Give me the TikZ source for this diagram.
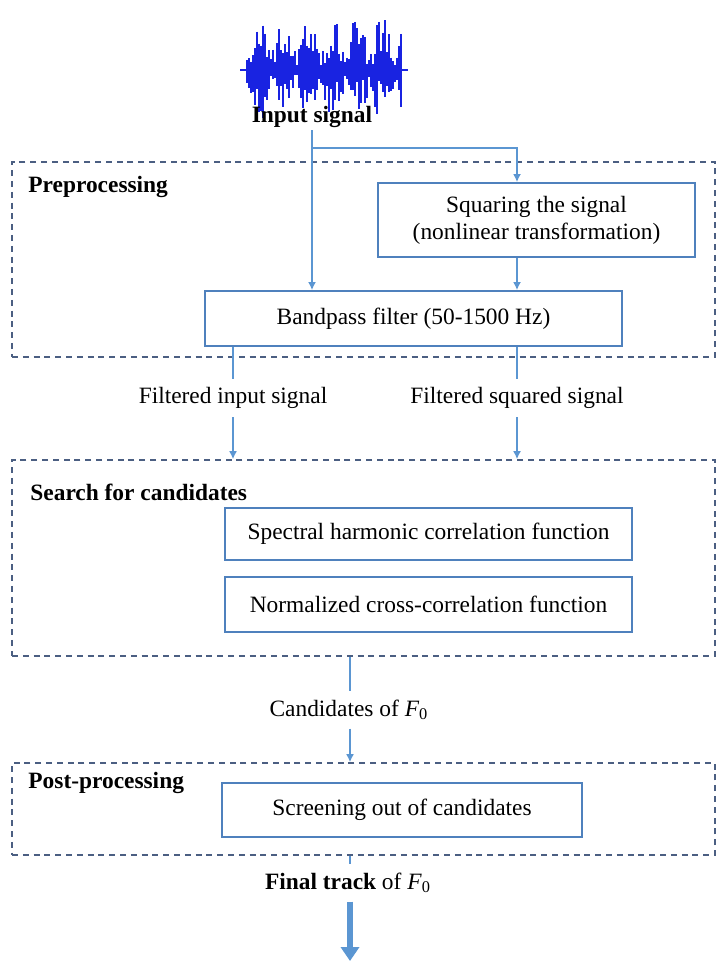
\documentclass[tikz,border=0pt]{standalone}
\usepackage{fontspec}
\setmainfont{Liberation Serif}
\usetikzlibrary{arrows.meta,positioning}
\definecolor{boxblue}{RGB}{79,129,189}
\definecolor{flowblue}{RGB}{91,150,210}
\definecolor{framegray}{RGB}{75,95,130}
\definecolor{waveblue}{RGB}{25,35,225}
\tikzset{
  procbox/.style={draw=boxblue,line width=0.9pt,align=center,inner sep=2pt},
  stageframe/.style={draw=framegray,line width=0.8pt,dash pattern=on 3pt off 2.4pt,inner sep=0pt},
  stagetitle/.style={font=\bfseries,anchor=west,inner sep=0pt},
  flowlbl/.style={inner sep=4pt},
  flow/.style={draw=flowblue,line width=0.8pt},
  flowarr/.style={flow,-{Latex[length=4pt,width=4pt]}},
  wave/.style={draw=waveblue,line width=0.7pt}
}
\begin{document}
\fontsize{11.7}{13.6}\selectfont
\begin{tikzpicture}[x=0.5pt,y=-0.5pt]
  \useasboundingbox (0,0) rectangle (720,961);
  \pgfmathsetseed{11}
  \draw[wave] (240,70) -- (408,70);
  \foreach \i in {0,2,...,154}{
    \pgfmathsetmacro\env{56*(0.25+0.75*abs(sin(\i*7.3)))}
    \pgfmathsetmacro\up{\env*(0.2+0.8*rnd)}
    \pgfmathsetmacro\dn{\env*(0.2+0.8*rnd)}
    \draw[wave] (247+\i,70-\up) -- (247+\i,70+\dn);
  }
  \node[font=\bfseries,inner sep=1pt] (insig) at (312,117) {Input signal};

  % stage frames
  \node[stageframe,minimum width=351.5pt,minimum height=97.5pt] (pre) at (363.5,259.5) {};
  \node[stageframe,minimum width=351.5pt,minimum height=98pt] (search) at (363.5,558) {};
  \node[stageframe,minimum width=351.5pt,minimum height=46pt] (post) at (363.5,809) {};
  \node[stagetitle] at (28,187) {Preprocessing};
  \node[stagetitle] at (30,492) {Search for candidates};
  \node[stagetitle] at (28,783) {Post-processing};

  \node[procbox,minimum width=158.5pt,minimum height=37pt] (sq) at (536.5,220)
    {Squaring the signal\\(nonlinear transformation)};
  \node[procbox,minimum width=208.5pt,minimum height=27.5pt] (bp) at (413.5,318.5)
    {Bandpass filter (50-1500 Hz)};
  \node[procbox,minimum width=203.5pt,minimum height=26pt] (shc) at (428.5,534)
    {Spectral harmonic correlation function};
  \node[procbox,minimum width=203.5pt,minimum height=27.5pt] (ncc) at (428.5,604.5)
    {Normalized cross-correlation function};
  \node[procbox,minimum width=180pt,minimum height=27pt] (scr) at (402,810)
    {Screening out of candidates};

  \node[flowlbl] (filtin) at (233,398) {Filtered input signal};
  \node[flowlbl] (filtsq) at (517,398) {Filtered squared signal};
  \node[flowlbl] (cand) at (349,710) {Candidates of \textit{F}\textsubscript{0}};
  \node[flowlbl] (final) at (348,883) {\textbf{Final track} of \textit{F}\textsubscript{0}};

  \coordinate (split) at (312,148);
  \coordinate (sqx) at (517,0);
  \coordinate (outend) at (350,961);

  \draw[flowarr] (insig.south) -- (insig.south |- bp.north);
  \draw[flowarr] (split) -| (sqx |- sq.north);
  \draw[flowarr] (sqx |- sq.south) -- (sqx |- bp.north);
  \draw[flow] (filtin.north |- bp.south) -- (filtin.north);
  \draw[flowarr] (filtin.south) -- (filtin.south |- search.north);
  \draw[flow] (filtsq.north |- bp.south) -- (filtsq.north);
  \draw[flowarr] (filtsq.south) -- (filtsq.south |- search.north);
  \draw[flow] (outend |- search.south) -- (outend |- cand.north);
  \draw[flowarr] (outend |- cand.south) -- (outend |- post.north);
  \draw[flow] (outend |- post.south) -- (outend |- final.north);
  \draw[flow,line width=3.2pt,-{Triangle[length=7pt,width=9pt]}] (outend |- final.south) -- (outend);
\end{tikzpicture}
\end{document}
